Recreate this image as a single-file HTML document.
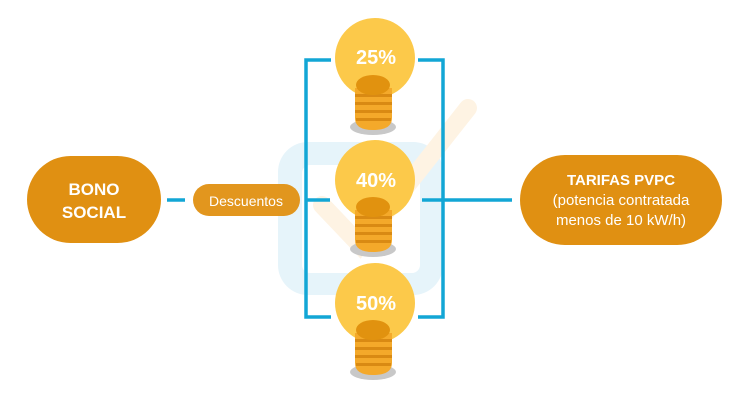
<!DOCTYPE html>
<html><head><style>body{margin:0;background:#fff}svg{display:block}text{font-family:"Liberation Sans",sans-serif}</style></head><body>
<svg width="750" height="400" viewBox="0 0 750 400">
<defs>
<g id="bulb">
<ellipse cx="373" cy="69" rx="23" ry="8" fill="#c8c8c8"/>
<circle cx="375" cy="0" r="40" fill="#fcc94a"/>
<path d="M355 30 H392 V60 Q392 72 373 72 Q355 72 355 60Z" fill="#f4a92a"/>
<g fill="#d98a13"><rect x="355" y="36" width="37" height="3"/><rect x="355" y="44" width="37" height="3"/><rect x="355" y="52" width="37" height="3"/><rect x="356" y="60" width="35" height="3"/></g>
<ellipse cx="373" cy="27" rx="17" ry="10" fill="#e1920f"/>
</g>
</defs>
<rect x="278" y="142" width="165" height="153" rx="30" fill="#e6f4fa"/>
<rect x="302" y="165" width="118" height="108" rx="8" fill="#fff"/>
<path d="M322 205 L360 245 L468 108" stroke="#fef3e3" stroke-width="18" fill="none" stroke-linecap="round"/>
<g stroke="#12a6d5" stroke-width="3.5" fill="none">
<path d="M331 60 H306 V317 H331"/><path d="M418 60 H443 V317 H418"/>
<path d="M306 200 H330"/><path d="M422 200 H512"/><path d="M167 200 H185"/>
</g>
<use href="#bulb" y="58"/>
<use href="#bulb" y="180"/>
<use href="#bulb" y="303"/>
<g fill="#fff" font-weight="bold" font-size="20" text-anchor="middle">
<text x="376" y="64">25%</text><text x="376" y="187">40%</text><text x="376" y="310">50%</text>
</g>
<rect x="27" y="156" width="134" height="87" rx="43.5" fill="#e09012"/>
<text x="94" y="195" fill="#fff" font-weight="bold" font-size="17" text-anchor="middle">BONO</text>
<text x="94" y="218" fill="#fff" font-weight="bold" font-size="17" text-anchor="middle">SOCIAL</text>
<rect x="193" y="184" width="107" height="32" rx="16" fill="#e09012" opacity="0.95"/>
<text x="246" y="206" fill="#fff" font-size="14" text-anchor="middle">Descuentos</text>
<rect x="520" y="155" width="202" height="90" rx="45" fill="#e09012"/>
<g fill="#fff" font-size="15" text-anchor="middle">
<text x="621" y="185" font-weight="bold">TARIFAS PVPC</text>
<text x="621" y="205">(potencia contratada</text>
<text x="621" y="225">menos de 10 kW/h)</text>
</g>
</svg>
</body></html>
